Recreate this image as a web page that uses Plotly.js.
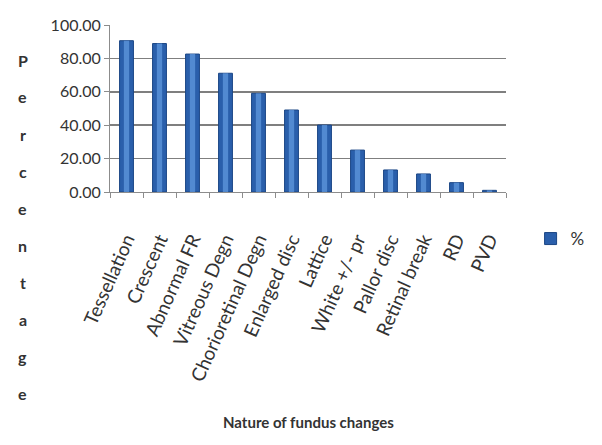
<!DOCTYPE html>
<html>
<head>
<meta charset="utf-8">
<script src="https://cdn.plot.ly/plotly-3.0.1.min.js"></script>
<style>
  html, body { margin: 0; padding: 0; background: #ffffff; }
  #chart { width: 602px; height: 445px; }
</style>
</head>
<body>
<div id="chart"></div>
<script>
// Fundus changes and the share of eyes showing each one (%)
const categories = [
  "Tessellation", "Crescent", "Abnormal FR", "Vitreous Degn",
  "Chorioretinal Degn", "Enlarged disc", "Lattice", "White +/- pr",
  "Pallor disc", "Retinal break", "RD", "PVD"
];
const percentages = [90.6, 88.9, 82.6, 71.1, 59.1, 49.1, 40.1, 25.1, 13.2, 10.8, 5.6, 1.0];
const seriesName = "%";
const yTitleText = "Percentage";
const xTitleText = "Nature of fundus changes";

const FONT = "Lato, 'Open Sans', sans-serif";
const TEXT = "#333333";

// plot area in pixels, used to place the stacked axis title letters
const M = { l: 110, r: 57, t: 25, b: 253 };
const H = 445;
const plotH = H - M.t - M.b;
const plotW = 602 - M.l - M.r;
const pxToPaperY = y => (H - M.b - y) / plotH;
const pxToPaperX = x => (x - M.l) / plotW;

const bars = {
  type: "bar",
  x: categories,
  y: percentages,
  name: seriesName,
  width: 0.42,
  marker: { color: "#2a5fab", line: { color: "#1b4685", width: 1 } },
  hoverinfo: "x+y"
};
// lighter core of each bar for the rounded, shaded look
const barCore = {
  type: "bar",
  x: categories,
  y: percentages,
  width: 0.16,
  showlegend: false,
  hoverinfo: "skip",
  marker: { color: "rgba(96,152,222,0.75)", line: { width: 0 } }
};

const annotations = [];
const letters = yTitleText.split("");
letters.forEach((ch, i) => {
  annotations.push({
    xref: "paper", yref: "paper",
    x: pxToPaperX(14), y: pxToPaperY(60 + i * 37),
    xanchor: "center", yanchor: "middle",
    text: "<b>" + ch + "</b>", showarrow: false,
    font: { family: FONT, size: 16, color: TEXT }
  });
});
annotations.push({
  xref: "paper", yref: "paper",
  x: pxToPaperX(328), y: pxToPaperY(422),
  xanchor: "center", yanchor: "middle",
  text: "<b>" + xTitleText + "</b>", showarrow: false,
  font: { family: FONT, size: 15, color: TEXT }
});

const layout = {
  width: 602, height: 445,
  margin: M,
  paper_bgcolor: "#ffffff",
  plot_bgcolor: "#ffffff",
  barmode: "overlay",
  font: { family: FONT, color: TEXT },
  showlegend: true,
  legend: {
    x: pxToPaperX(572), y: pxToPaperY(239),
    xanchor: "left", yanchor: "middle",
    font: { family: FONT, size: 17, color: TEXT },
    itemwidth: 30, tracegroupgap: 0,
    bgcolor: "rgba(0,0,0,0)"
  },
  xaxis: {
    type: "category",
    showgrid: false,
    showline: true, linecolor: "#8c8c8c", linewidth: 1,
    ticks: "outside", tickson: "boundaries", ticklen: 5, tickcolor: "#8c8c8c",
    tickangle: -66,
    ticklabelstandoff: 28,
    tickfont: { family: FONT, size: 19, color: TEXT },
    zeroline: false
  },
  yaxis: {
    range: [0, 100],
    dtick: 20, tick0: 0,
    tickformat: ".2f",
    showgrid: true, gridcolor: "#7f7f7f", gridwidth: 1.5,
    showline: true, linecolor: "#8c8c8c", linewidth: 1,
    ticks: "outside", ticklen: 5, tickcolor: "#8c8c8c",
    tickfont: { family: FONT, size: 16, color: TEXT },
    zeroline: false
  },
  annotations: annotations
};

Plotly.newPlot("chart", [bars, barCore], layout, { displayModeBar: false, staticPlot: true });
</script>
</body>
</html>
